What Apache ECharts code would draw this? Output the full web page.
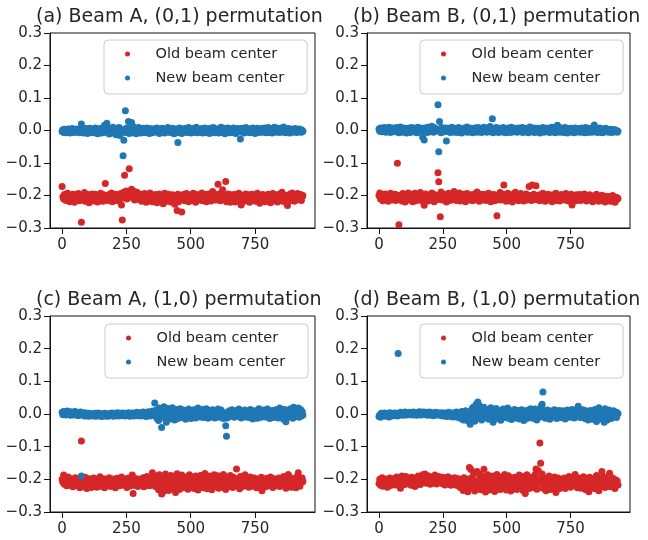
<!DOCTYPE html>
<html>
<head>
<meta charset="utf-8">
<script src="https://cdn.jsdelivr.net/npm/echarts@6/dist/echarts.min.js"></script>
<style>
  html, body { margin: 0; padding: 0; background: #fff; }
  #chart { width: 648px; height: 540px; }
</style>
</head>
<body>
<div id="chart"></div>
<script>
// Sample numbers (every 3rd sample of the run)
const sampleNo = [
  0,3,6,9,12,15,18,21,24,27,30,33,36,39,42,45,48,51,54,57,
  60,63,66,69,72,75,78,81,84,87,90,93,96,99,102,105,108,111,114,117,
  120,123,126,129,132,135,138,141,144,147,150,153,156,159,162,165,168,171,174,177,
  180,183,186,189,192,195,198,201,204,207,210,213,216,219,222,225,228,231,234,237,
  240,243,246,249,252,255,258,261,264,267,270,273,276,279,282,285,288,291,294,297,
  300,303,306,309,312,315,318,321,324,327,330,333,336,339,342,345,348,351,354,357,
  360,363,366,369,372,375,378,381,384,387,390,393,396,399,402,405,408,411,414,417,
  420,423,426,429,432,435,438,441,444,447,450,453,456,459,462,465,468,471,474,477,
  480,483,486,489,492,495,498,501,504,507,510,513,516,519,522,525,528,531,534,537,
  540,543,546,549,552,555,558,561,564,567,570,573,576,579,582,585,588,591,594,597,
  600,603,606,609,612,615,618,621,624,627,630,633,636,639,642,645,648,651,654,657,
  660,663,666,669,672,675,678,681,684,687,690,693,696,699,702,705,708,711,714,717,
  720,723,726,729,732,735,738,741,744,747,750,753,756,759,762,765,768,771,774,777,
  780,783,786,789,792,795,798,801,804,807,810,813,816,819,822,825,828,831,834,837,
  840,843,846,849,852,855,858,861,864,867,870,873,876,879,882,885,888,891,894,897,
  900,903,906,909,912,915,918,921,924,927,930,933,936
];

// Beam-center offsets, in units of 0.001
const oldA01 = [
  -172,-204,-211,-197,-208,-215,-201,-193,-210,-206,-219,-199,-205,-213,-196,-209,-221,-203,-198,-212,
  -207,-194,-216,-202,-210,-282,-199,-214,-205,-191,-218,-208,-203,-211,-197,-222,-206,-200,-213,-195,
  -209,-217,-202,-196,-212,-205,-220,-199,-207,-214,-193,-210,-203,-218,-198,-206,-163,-211,-201,-215,
  -204,-197,-213,-208,-192,-219,-206,-201,-211,-196,-215,-203,-209,-198,-217,-205,-194,-229,-275,-207,
  -190,-138,-202,-186,-211,-196,-188,-118,-204,-193,-181,-199,-208,-187,-214,-195,-201,-190,-209,-197,
  -212,-203,-196,-218,-207,-200,-213,-194,-209,-221,-204,-198,-215,-206,-192,-211,-203,-219,-200,-208,
  -214,-197,-206,-222,-201,-210,-195,-217,-204,-209,-199,-225,-207,-193,-213,-202,-218,-205,-196,-211,
  -203,-220,-208,-198,-214,-201,-227,-206,-212,-246,-196,-219,-204,-209,-200,-251,-213,-197,-208,-216,
  -202,-194,-211,-205,-219,-198,-207,-213,-200,-215,-193,-209,-204,-221,-197,-210,-206,-199,-214,-203,
  -208,-192,-216,-201,-211,-205,-197,-219,-204,-209,-195,-213,-200,-217,-206,-188,-211,-203,-198,-214,
  -205,-196,-165,-210,-201,-216,-193,-208,-182,-212,-199,-204,-157,-219,-207,-195,-210,-202,-221,-198,
  -209,-203,-214,-197,-220,-206,-211,-200,-216,-193,-208,-204,-229,-199,-212,-205,-218,-201,-195,-210,
  -206,-213,-198,-221,-203,-209,-196,-215,-204,-211,-200,-218,-207,-193,-212,-202,-224,-199,-208,-214,
  -197,-210,-204,-219,-201,-207,-215,-196,-211,-205,-222,-200,-209,-194,-216,-203,-212,-198,-207,-220,
  -202,-211,-195,-214,-206,-190,-218,-204,-199,-212,-208,-223,-231,-201,-209,-196,-215,-205,-192,-211,
  -203,-218,-199,-210,-206,-194,-213,-201,-209,-197,-215,-204,-200
];
const newA01 = [
  -3,2,-6,4,-1,-7,3,-4,5,-2,-8,1,-5,6,-3,0,-6,3,-2,5,
  -4,1,-7,4,-2,20,-5,2,-8,3,-1,6,-4,-9,2,-3,7,-6,1,-2,
  4,-7,-2,8,-5,1,-10,3,-4,6,-1,-8,2,5,-6,16,-3,9,22,-5,
  3,-11,6,-4,1,-8,10,-2,-6,4,-13,7,-1,-5,9,-15,2,-7,-3,-78,
  -30,4,61,-6,8,-3,28,-9,5,-2,25,-7,12,1,-5,7,-10,3,-4,9,
  -2,5,-8,2,-4,7,-1,-6,4,-3,8,-5,1,-9,6,-2,3,-7,5,-1,
  -4,6,-2,8,-6,3,-9,1,5,-3,7,-5,2,-8,4,0,-4,9,-2,3,
  -6,4,-1,7,-3,-10,2,5,-7,3,-37,-4,8,-2,6,-9,1,-5,4,-3,
  7,-2,-6,3,9,-4,1,-8,5,-1,6,-5,2,-3,10,-7,4,0,-5,3,
  -2,6,-8,2,-4,8,-1,-6,5,-3,1,-9,7,-2,4,-5,9,-1,-7,3,
  5,-4,2,-8,6,-1,10,-6,3,-3,7,-10,1,4,-5,8,-2,-7,5,-1,
  3,-6,8,-3,1,-9,5,-2,6,-4,-1,-26,2,7,-5,4,-8,1,9,-3,
  -5,6,-2,4,-7,2,-1,8,-4,3,-9,5,-3,7,0,-6,4,-2,6,-5,
  2,-4,8,-1,-7,5,-3,9,-6,1,-2,6,-8,3,-4,10,-1,-5,4,-3,
  7,-2,-6,3,-4,8,-1,11,-5,2,-7,4,-3,6,-1,-8,5,-2,3,-5,
  4,-3,6,-1,-6,2,-4,5,-2,3,-5,1,-2
];
const oldB01 = [
  -200,-192,-211,-205,-197,-216,-203,-209,-195,-213,-206,-199,-218,-202,-210,-193,-207,-214,-198,-211,
  -204,-196,-215,-208,-101,-201,-290,-212,-199,-206,-217,-194,-209,-203,-220,-198,-211,-205,-192,-214,
  -207,-200,-213,-196,-219,-204,-210,-193,-216,-202,-208,-197,-214,-205,-191,-211,-203,-218,-199,-230,
  -209,-195,-212,-204,-217,-199,-206,-214,-201,-192,-210,-207,-219,-198,-205,-213,-200,-130,-158,-211,
  -265,-189,-214,-203,-208,-196,-212,-205,-220,-199,-207,-193,-215,-202,-210,-197,-213,-204,-188,-209,
  -203,-215,-198,-211,-206,-192,-217,-204,-209,-200,-214,-196,-208,-219,-203,-194,-211,-206,-199,-213,
  -205,-198,-216,-202,-210,-195,-213,-207,-189,-212,-204,-218,-200,-209,-196,-214,-203,-211,-197,-208,
  -215,-201,-206,-193,-212,-204,-219,-198,-210,-205,-197,-216,-202,-209,-262,-213,-199,-207,-191,-214,
  -204,-210,-196,-168,-212,-201,-218,-206,-193,-209,-214,-199,-207,-203,-220,-196,-211,-204,-190,-213,
  -205,-198,-216,-202,-209,-194,-212,-207,-200,-217,-203,-210,-195,-214,-206,-199,-172,-208,-201,-215,
  -168,-204,-196,-211,-206,-170,-213,-199,-208,-202,-216,-197,-210,-205,-193,-212,-203,-218,-200,-207,
  -211,-196,-209,-214,-201,-206,-219,-198,-212,-204,-207,-193,-215,-203,-210,-200,-217,-205,-197,-213,
  -206,-199,-212,-208,-194,-215,-203,-210,-201,-218,-205,-196,-229,-209,-213,-200,-207,-216,-198,-211,
  -204,-210,-197,-215,-206,-201,-213,-208,-195,-211,-203,-217,-200,-209,-214,-198,-206,-212,-202,-219,
  -207,-201,-214,-209,-196,-212,-205,-218,-203,-210,-215,-199,-208,-213,-205,-220,-202,-211,-216,-206,
  -212,-203,-218,-208,-214,-200,-216,-210,-221,-205,-213,-207,-209
];
const newB01 = [
  5,-2,8,1,-4,6,-1,9,3,-5,7,0,-3,10,2,-6,4,-1,8,-3,
  6,-4,2,9,-1,5,-7,3,11,-2,4,-5,8,1,-3,6,-8,2,7,-1,
  3,-6,9,0,5,-3,8,-1,4,-7,2,10,-4,6,1,-5,7,-20,3,-29,
  8,-2,5,-6,10,1,-4,7,-1,13,2,-5,9,-3,6,0,4,79,-65,28,
  3,-7,9,-1,6,-4,2,8,-32,5,-3,7,1,-6,4,10,-2,6,-5,3,
  7,-1,4,-6,9,2,-3,5,-8,1,6,-2,8,-4,3,11,-5,2,-1,7,
  -3,5,-7,4,1,8,-2,6,-5,9,0,-4,7,2,-6,5,-1,10,-3,4,
  1,-5,8,-2,6,12,-4,3,36,-7,5,1,-3,9,-1,4,-6,7,2,-4,
  6,-2,9,-5,3,1,-7,5,-1,8,-3,4,-6,10,2,-4,7,0,-2,5,
  -5,3,8,-1,6,-4,2,9,-6,4,0,-3,7,-2,5,-7,3,11,-1,6,
  -4,2,8,-6,5,1,-3,7,-1,4,-8,6,2,-2,9,-5,3,0,7,-4,
  5,-1,8,-6,3,-2,10,1,-4,6,-7,4,2,16,-3,7,-5,1,8,-2,
  4,-6,3,9,-2,5,-8,1,6,-3,7,0,-5,4,2,-7,8,-1,5,-4,
  2,6,-5,3,-1,8,-3,5,-7,2,9,-4,1,-6,4,7,-2,3,-5,6,
  -1,17,-4,2,6,-6,3,-2,8,-5,1,4,-7,5,-3,2,7,-4,0,3,
  -5,4,-2,1,-6,3,-1,-4,2,-3,0,-5,-2
];
const oldA10 = [
  -200,-209,-187,-215,-204,-196,-220,-208,-193,-212,-205,-218,-199,-210,-223,-202,-214,-195,-207,-219,
  -203,-211,-197,-226,-208,-83,-215,-201,-222,-206,-194,-213,-228,-204,-210,-198,-219,-207,-225,-201,
  -212,-196,-218,-209,-203,-224,-200,-215,-207,-192,-221,-211,-204,-217,-198,-226,-206,-213,-201,-219,
  -208,-195,-214,-222,-203,-210,-199,-217,-205,-226,-211,-197,-215,-206,-220,-202,-213,-193,-218,-209,
  -204,-216,-199,-211,-225,-207,-196,-213,-203,-220,-209,-187,-243,-201,-218,-206,-212,-198,-222,-208,
  -214,-200,-219,-206,-211,-195,-223,-208,-202,-216,-191,-212,-205,-220,-198,-209,-217,-180,-203,-214,
  -207,-222,-190,-215,-200,-232,-186,-218,-203,-245,-211,-238,-196,-227,-184,-209,-221,-193,-234,-206,
  -216,-188,-229,-201,-214,-195,-224,-240,-208,-183,-219,-204,-231,-197,-212,-187,-226,-210,-199,-222,
  -205,-218,-192,-230,-209,-186,-215,-224,-200,-211,-196,-228,-206,-190,-217,-203,-233,-198,-213,-188,
  -221,-207,-194,-226,-210,-182,-215,-203,-229,-198,-212,-190,-219,-205,-232,-196,-214,-186,-223,-208,
  -200,-217,-189,-227,-206,-213,-195,-224,-203,-185,-218,-209,-231,-198,-214,-192,-222,-207,-188,-216,
  -203,-225,-194,-212,-206,-220,-168,-199,-216,-208,-229,-191,-213,-202,-222,-196,-210,-186,-219,-205,
  -212,-198,-224,-207,-193,-216,-203,-221,-209,-196,-215,-202,-226,-208,-199,-218,-205,-211,-194,-235,
  -210,-201,-217,-206,-223,-197,-212,-204,-219,-208,-193,-215,-202,-225,-209,-198,-214,-205,-220,-200,
  -213,-196,-222,-207,-201,-218,-209,-191,-216,-204,-227,-199,-212,-185,-220,-206,-195,-224,-208,-203,
  -217,-199,-211,-226,-193,-214,-180,-205,-221,-200,-210,-196,-207
];
const newA10 = [
  5,-2,8,1,6,-3,4,9,-1,3,7,-4,2,6,0,-3,5,8,-2,4,
  1,-5,3,-1,6,-190,2,-3,4,-6,0,3,-4,1,-7,2,-2,-5,1,-3,
  -6,0,-3,2,-7,-1,-4,3,-5,-2,1,-8,-3,0,-6,2,-4,-1,-7,1,
  -3,-6,0,-2,3,-5,-1,-7,2,-4,0,-3,4,-6,-1,1,-5,-2,3,-4,
  -1,-6,2,-3,0,-5,4,-2,-7,1,-4,3,-1,-6,2,-3,0,5,-5,1,
  -2,4,-6,1,-3,6,-1,-5,3,-8,2,-4,7,-2,-6,4,0,9,-3,5,
  34,-6,12,-14,3,-20,18,-9,6,-41,15,-3,22,-12,8,-25,4,17,-7,10,
  -15,6,-4,19,-10,2,-18,11,-6,14,-2,-13,8,16,-8,3,-11,12,-4,7,
  -16,9,1,-10,15,-5,6,-14,11,-2,-8,13,4,-12,7,-3,18,-6,2,-9,
  10,-4,14,-11,3,8,-7,16,-1,-13,6,11,-5,2,-9,13,-3,7,-12,4,
  9,-6,15,-2,-10,5,12,-8,1,-14,3,-4,-36,-68,-12,7,-3,10,-7,2,
  13,-5,8,-10,4,-2,11,-7,1,15,-4,6,-12,3,9,-6,0,12,-9,5,
  -3,8,-11,4,14,-6,2,-15,7,-1,10,-8,3,-13,6,16,-4,1,-10,9,
  -5,12,-2,7,-9,3,15,-7,5,-14,2,9,-4,11,-11,4,-1,13,-6,8,
  -12,6,18,-3,10,-8,2,-16,14,-5,-24,7,-1,12,-9,3,16,-6,9,-13,
  21,-4,11,-8,5,-2,18,-10,4,14,-6,8,-3
];
const oldB10 = [
  -213,-200,-218,-206,-195,-221,-204,-210,-199,-216,-207,-224,-201,-212,-196,-219,-205,-209,-214,-198,
  -203,-217,-208,-193,-211,-200,-215,-206,-227,-212,-190,-204,-209,-199,-216,-191,-207,-202,-213,-196,
  -210,-201,-218,-194,-206,-212,-200,-222,-197,-208,-214,-190,-205,-203,-216,-199,-211,-186,-209,-204,
  -184,-197,-212,-203,-189,-208,-200,-215,-193,-206,-211,-198,-204,-187,-209,-214,-196,-202,-191,-210,
  -205,-199,-213,-194,-208,-201,-217,-196,-211,-203,-192,-214,-206,-200,-218,-197,-209,-204,-215,-195,
  -210,-202,-219,-206,-198,-212,-225,-201,-216,-207,-234,-195,-213,-203,-221,-209,-238,-199,-164,-211,
  -170,-226,-193,-214,-182,-236,-205,-219,-176,-228,-182,-213,-197,-232,-188,-210,-224,-169,-207,-239,
  -198,-222,-186,-211,-233,-203,-194,-216,-229,-190,-208,-237,-201,-219,-185,-212,-226,-196,-231,-204,
  -214,-192,-227,-206,-185,-220,-233,-199,-211,-189,-225,-203,-236,-197,-215,-208,-229,-194,-218,-202,
  -231,-196,-213,-187,-224,-205,-219,-198,-234,-191,-210,-243,-207,-186,-221,-200,-228,-195,-215,-209,
  -225,-192,-217,-203,-185,-168,-230,-199,-174,-212,-89,-151,-206,-184,-227,-196,-219,-204,-235,-198,
  -213,-222,-190,-208,-231,-199,-216,-205,-226,-193,-211,-240,-202,-218,-196,-229,-207,-214,-200,-223,
  -205,-217,-196,-228,-210,-201,-219,-207,-191,-214,-224,-203,-212,-198,-220,-206,-185,-215,-202,-226,
  -209,-196,-218,-204,-227,-200,-213,-192,-221,-207,-232,-199,-215,-205,-238,-194,-211,-203,-224,-198,
  -216,-208,-229,-201,-188,-219,-206,-235,-197,-213,-204,-176,-222,-209,-193,-225,-211,-200,-218,-206,
  -214,-181,-223,-203,-210,-196,-219,-207,-228,-201,-212,-205,-217
];
const newB10 = [
  -8,-3,-10,2,-5,-1,-6,3,0,-4,-7,1,-2,-9,4,-3,-6,0,2,-5,
  -1,3,-4,0,-6,185,2,-3,5,-1,1,-4,3,-2,6,0,-3,4,-1,2,
  5,-2,1,4,-3,6,0,-1,3,-4,2,5,-2,7,1,-3,4,0,6,-1,
  3,-2,5,1,-4,2,6,0,-3,4,1,-5,3,-1,5,-2,0,4,-4,2,
  1,-3,4,-6,2,0,-5,3,-8,1,-2,5,-7,0,-4,3,-9,2,-6,-1,
  -4,6,-10,2,-7,4,-13,1,8,-5,-18,3,-8,10,-3,-20,5,-12,-2,-31,
  9,-15,18,-6,22,-22,12,30,-10,37,-4,26,-14,8,-18,15,-7,21,-2,-11,
  14,-8,6,-16,11,-3,19,-12,4,-25,13,-6,2,17,-9,5,-14,10,-1,-19,
  7,-5,15,-11,3,12,-7,-2,18,-13,6,-4,10,-17,1,9,-8,14,-3,-12,
  5,11,-6,-15,8,-2,13,-9,4,-20,10,-1,7,-14,3,12,-6,-10,16,-4,
  2,-13,9,-6,15,-3,-18,8,1,11,-9,4,25,30,67,-5,10,-13,2,-8,
  12,-4,7,-16,3,9,-10,5,-2,13,-7,1,-14,8,-5,11,-1,-11,6,-3,
  10,-8,3,-15,6,-2,12,-5,1,-10,8,-3,14,-7,4,-12,9,0,-6,15,
  24,-4,7,-11,2,-9,13,-1,5,-14,10,-6,3,-18,8,-2,11,-8,1,-16,
  6,-12,14,-3,-23,8,-7,19,-1,-15,4,11,-9,2,-25,16,-5,9,-18,3,
  12,-6,8,-14,5,-3,10,2,-8,6,-11,4,1
];

const panelTitles = [
  '(a) Beam A, (0,1) permutation',
  '(b) Beam B, (0,1) permutation',
  '(c) Beam A, (1,0) permutation',
  '(d) Beam B, (1,0) permutation'
];
const oldSeries = [oldA01, oldB01, oldA10, oldB10];
const newSeries = [newA01, newB01, newA10, newB10];
const seriesNames = ['Old beam center', 'New beam center'];
const xTicks = [0, 250, 500, 750];

// Layout of the 2x2 panel grid
const gridBoxes = [
  { left: 50,  top: 33,  width: 265, height: 195 },
  { left: 367, top: 33,  width: 263, height: 195 },
  { left: 50,  top: 316, width: 265, height: 196 },
  { left: 367, top: 316, width: 263, height: 196 }
];
const titlePos = [
  { left: 36,  top: 6 },
  { left: 353, top: 6 },
  { left: 36,  top: 289 },
  { left: 353, top: 289 }
];
const legendPos = [
  { left: 104, top: 40 },
  { left: 420, top: 40 },
  { left: 105, top: 324 },
  { left: 420, top: 324 }
];

const RED = '#d62728';
const BLUE = '#1f77b4';
const FONT = 'DejaVu Sans';
const INK = '#262626';
const LINE = '#111111';

const fmtY = v => {
  if (Math.abs(v) < 1e-9) return '0.0';
  return (v < 0 ? '\u2212' : '') + Math.abs(v).toFixed(1);
};

const grids = [], xAxes = [], yAxes = [], titles = [], legends = [], series = [];
gridBoxes.forEach((g, p) => {
  grids.push({
    left: g.left, top: g.top, width: g.width, height: g.height,
    show: true, borderColor: LINE, borderWidth: 1, backgroundColor: 'transparent'
  });
  xAxes.push({
    type: 'value', gridIndex: p, min: -47, max: 983,
    axisLine: { show: true, onZero: false, lineStyle: { color: LINE, width: 1 } },
    splitLine: { show: false },
    axisTick: { show: true, length: 6, customValues: xTicks, lineStyle: { color: LINE, width: 1 } },
    axisLabel: { customValues: xTicks, margin: 10, fontFamily: FONT, fontSize: 15, color: INK }
  });
  yAxes.push({
    type: 'value', gridIndex: p, min: -0.3, max: 0.3, interval: 0.1,
    axisLine: { show: true, onZero: false, lineStyle: { color: LINE, width: 1 } },
    splitLine: { show: false },
    axisTick: { show: true, length: 6, lineStyle: { color: LINE, width: 1 } },
    axisLabel: { margin: 8, fontFamily: FONT, fontSize: 15, color: INK, formatter: fmtY }
  });
  titles.push({
    text: panelTitles[p], left: titlePos[p].left, top: titlePos[p].top, padding: 0,
    textStyle: { fontFamily: FONT, fontSize: 19, fontWeight: 'normal', color: INK, lineHeight: 22 }
  });
  legends.push({
    data: seriesNames, orient: 'vertical',
    left: legendPos[p].left, top: legendPos[p].top,
    padding: [5, 23, 7, 21], itemGap: 6,
    itemWidth: 46, itemHeight: 5, icon: 'circle',
    borderColor: '#cccccc', borderWidth: 1, borderRadius: 4,
    backgroundColor: 'rgba(255,255,255,0.8)',
    selectedMode: false,
    textStyle: { fontFamily: FONT, fontSize: 14.5, color: INK, lineHeight: 18 }
  });
  const colors = [RED, BLUE];
  [oldSeries[p], newSeries[p]].forEach((vals, k) => {
    series.push({
      type: 'scatter', name: seriesNames[k],
      xAxisIndex: p, yAxisIndex: p,
      symbol: 'circle', symbolSize: 7,
      itemStyle: { color: colors[k], opacity: 1 },
      data: sampleNo.map((x, i) => [x, vals[i] / 1000]),
      z: 2 + k
    });
  });
});

const chart = echarts.init(document.getElementById('chart'), null, { renderer: 'canvas' });
chart.setOption({
  animation: false,
  backgroundColor: '#fff',
  title: titles,
  legend: legends,
  grid: grids,
  xAxis: xAxes,
  yAxis: yAxes,
  series: series
});
</script>
</body>
</html>
